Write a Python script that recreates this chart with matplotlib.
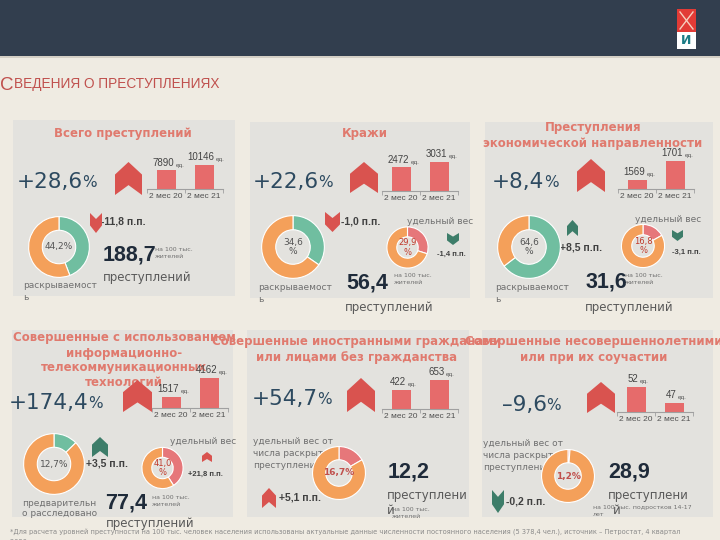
import matplotlib
matplotlib.use("Agg")
import matplotlib.pyplot as plt
from matplotlib.patches import Rectangle, Polygon

# ---------------- data ----------------
page_title_first = "С"
page_title_rest = "ВЕДЕНИЯ О ПРЕСТУПЛЕНИЯХ"
panel_titles = [
    ["Всего преступлений"],
    ["Кражи"],
    ["Преступления", "экономической направленности"],
    ["Совершенные с использованием", "информационно-", "телекоммуникационных", "технологий"],
    ["Совершенные иностранными гражданами", "или лицами без гражданства"],
    ["Совершенные несовершеннолетними", "или при их соучастии"],
]
period_labels = ["2 мес 20", "2 мес 21"]
unit_label = "ед."
crimes_2m20 = [7890, 2472, 1569, 1517, 422, 52]
crimes_2m21 = [10146, 3031, 1701, 4162, 653, 47]
change_pct = [28.6, 22.6, 8.4, 174.4, 54.7, -9.6]
solve_rate = [44.2, 34.6, 64.6, 12.7]
solve_rate_change = [-11.8, -1.0, 8.5, 3.5]
solve_rate_labels = [["раскрываемост", "ь"]] * 3 + [["предварительн", "о расследовано"]]
weight_label = "удельный вес"
weight_share = [29.9, 16.8, 41.0]          # panels 2-4
weight_change = [-1.4, -3.1, 21.8]
solved_share_label = ["удельный вес от", "числа раскрытых", "преступлений"]
solved_share = [16.7, 1.2]                 # panels 5-6
solved_share_change = [5.1, -0.2]
rate_per_100k = [188.7, 56.4, 31.6, 77.4, 12.2, 28.9]
rate_units = ["на 100 тыс.\nжителей"] * 5 + ["на 100 тыс. подростков 14-17\nлет"]
crimes_word = "преступлений"
footnote = ("*Для расчета уровней преступности на 100 тыс. человек населения использованы актуальные "
            "данные численности постоянного населения (5 378,4 чел.), источник – Петростат, 4 квартал")
footnote2 = "2020 года"

# ---------------- style ----------------
NARROW = ["Liberation Sans", "DejaVu Sans"]
SANS = ["DejaVu Sans"]
ARIAL = ["Liberation Sans", "DejaVu Sans"]
BG = "#efebe2"; PANEL = "#e3e2de"; HEADER = "#323e4e"
RED_T = "#e07a6e"; RED = "#d9534f"; BAR = "#e66b6b"; TEAL = "#70bea0"; TEAL_D = "#3d7d69"
ORANGE = "#f4a05a"; PINK = "#e6777a"; NAVY = "#2d4a60"; DARK = "#1f2b3a"; GREY = "#707070"

W, H = 720, 540
fig = plt.figure(figsize=(7.2, 5.4), dpi=100)
fig.patch.set_facecolor(BG)
base = fig.add_axes([0, 0, 1, 1])
base.set_xlim(0, W); base.set_ylim(H, 0); base.axis("off")


def fnum(v, signed=False, dash="-"):
    s = f"{abs(v):.1f}".replace(".", ",")
    if v < 0:
        return dash + s
    return ("+" + s) if signed else s


def rect(x0, y0, x1, y1, c, z=0):
    base.add_patch(Rectangle((x0, y0), x1 - x0, y1 - y0, facecolor=c, edgecolor="none", zorder=z))


def txt(x, y, s, size, color, ha="left", va="center", weight="normal", family=SANS, z=3, **kw):
    return base.text(x, y, s, fontsize=size, color=color, ha=ha, va=va, fontweight=weight,
                     family=family, zorder=z, **kw)


def lines(x, y, step, items, size, color, **kw):
    for k, s in enumerate(items):
        txt(x, y + k * step, s, size, color, **kw)


def chevron(x0, y0, w, h, up, color, z=5):
    if up:
        pts = [(x0, y0 + h), (x0, y0 + 0.38 * h), (x0 + w / 2, y0), (x0 + w, y0 + 0.38 * h),
               (x0 + w, y0 + h), (x0 + w / 2, y0 + 0.7 * h)]
    else:
        pts = [(x0, y0), (x0 + w / 2, y0 + 0.3 * h), (x0 + w, y0), (x0 + w, y0 + 0.62 * h),
               (x0 + w / 2, y0 + h), (x0, y0 + 0.62 * h)]
    base.add_patch(Polygon(pts, closed=True, facecolor=color, edgecolor="none", zorder=z))


def title(i, x, y, step=15.5):
    lines(x, y, step, panel_titles[i], 8.5, RED_T, ha="center", weight="bold")


def change(i, x, y):
    t = txt(x, y, fnum(change_pct[i], True, "–"), 15.5, NAVY)
    base.annotate("%", xy=(1, 0.1), xycoords=t, xytext=(-0.5, 0), textcoords="offset points",
                  fontsize=11, color=NAVY, ha="left", va="bottom", family=SANS)


def barchart(i, x, base_y, top_y, ymin):
    vals = [crimes_2m20[i], crimes_2m21[i]]
    ax = fig.add_axes([x / W, 1 - base_y / H, 76 / W, (base_y - top_y) / H])
    ax.bar([0, 1], vals, width=0.5, color=BAR, zorder=2)
    ax.set_xlim(-0.5, 1.5); ax.set_ylim(ymin, max(vals))
    ax.patch.set_visible(False)
    for s in ("top", "right", "left"):
        ax.spines[s].set_visible(False)
    ax.spines["bottom"].set_color("#a0a0a0"); ax.spines["bottom"].set_linewidth(0.8)
    ax.set_yticks([])
    ax.set_xticks([0, 1])
    ax.set_xticklabels(period_labels, fontsize=6, color="#505050", family=ARIAL)
    ax.tick_params(axis="x", which="major", length=0, pad=3)
    ax.set_xticks([-0.5, 0.5, 1.5], minor=True)
    ax.tick_params(axis="x", which="minor", length=3, width=0.6, color="#a0a0a0")
    for k, v in enumerate(vals):
        vt = ax.annotate(str(v), (k, v), xytext=(-2, 2), textcoords="offset points", ha="center",
                         va="bottom", fontsize=7, color="#444444", family=ARIAL, annotation_clip=False)
        ax.annotate(unit_label, xy=(1, 0), xycoords=vt, xytext=(1, 0), textcoords="offset points",
                    ha="left", va="bottom", fontsize=4.5, color="#555555", family=ARIAL)


def donut(cx, cy, r, share, color, width, label, lcolor="#555555", lsize=6.5, weight="normal"):
    ax = fig.add_axes([(cx - r) / W, 1 - (cy + r) / H, 2 * r / W, 2 * r / H])
    ax.pie([share, 100 - share], colors=[color, ORANGE], startangle=90, counterclock=False, radius=1,
           wedgeprops=dict(width=width, edgecolor="white", linewidth=0.8))
    ax.set_xlim(-1.02, 1.02); ax.set_ylim(-1.02, 1.02)
    ax.text(0, 0, label, ha="center", va="center", fontsize=lsize, color=lcolor, fontweight=weight,
            family=SANS, linespacing=1.1)


def pp(x, y, v, size=7.5):
    txt(x, y, fnum(v, True) + " п.п.", size, "#404040", weight="bold", family=NARROW)


def rate(i, x, y, ux, uy):
    t = txt(x, y, fnum(rate_per_100k[i]), 15.5, DARK, weight="bold", family=NARROW)
    txt(ux, uy, rate_units[i], 4.5, GREY, linespacing=1.3)
    return t


# ---------------- header ----------------
rect(0, 0, 720, 56, HEADER)
rect(0, 56, 720, 58, "#d4cfc5")
rect(677, 9, 696, 32, "#e23b36", z=2)
rect(677, 32, 696, 49, "white", z=2)
base.plot([680, 693], [12, 29], color="#f6d0c0", lw=1, zorder=3)
base.plot([693, 680], [12, 29], color="#f6d0c0", lw=1, zorder=3)
txt(686.5, 41, "И", 9, "#1b7c86", ha="center", weight="bold")
t0 = txt(0, 86, page_title_first, 13.5, "#c0504d", family=NARROW)
base.annotate(page_title_rest, xy=(1, 0.2), xycoords=t0, xytext=(0.3, 0), textcoords="offset points",
              fontsize=9.8, color="#c0504d", ha="left", va="bottom", family=NARROW)

# ---------------- panel 1 ----------------
rect(13, 120, 235, 296, PANEL)
title(0, 123, 134)
change(0, 17, 182)
chevron(115, 162, 27, 33, True, RED)
barchart(0, 147, 189, 165, 0)
donut(59, 247, 31, solve_rate[0], TEAL, 0.45, fnum(solve_rate[0]) + "%")
lines(23, 285, 12, solve_rate_labels[0], 6.5, GREY)
chevron(90, 213, 12, 20, False, RED)
pp(101, 221, solve_rate_change[0])
rate(0, 103, 255, 155, 253)
txt(103, 278, crimes_word, 8.5, "#595959")

# ---------------- panel 2 ----------------
rect(250, 122, 470, 298, PANEL)
title(1, 365, 134)
change(1, 253, 182)
chevron(350, 162, 28, 31, True, RED)
barchart(1, 382, 191, 162, 0)
donut(293, 247, 32, solve_rate[1], TEAL, 0.45, fnum(solve_rate[1]) + "\n%")
lines(258, 287, 12, solve_rate_labels[1], 6.5, GREY)
chevron(325, 212, 15, 20, False, RED)
pp(341, 222, solve_rate_change[1])
donut(407.5, 247.5, 21, weight_share[0], PINK, 0.48, fnum(weight_share[0]) + "\n%", "#c0392b", 6)
txt(407, 222, weight_label, 6.5, GREY)
chevron(447, 233, 12, 12, False, TEAL_D)
pp(437, 254, weight_change[0], 5.5)
rate(1, 346, 283, 394, 279)
txt(345, 307, crimes_word, 8.5, "#595959")

# ---------------- panel 3 ----------------
rect(485, 122, 713, 298, PANEL)
title(2, 593, 127, 16)
change(2, 492, 182)
chevron(577, 159, 28, 33, True, RED)
barchart(2, 618, 189, 161, 1505)
donut(529, 247, 32, solve_rate[2], TEAL, 0.45, fnum(solve_rate[2]) + "\n%")
lines(495, 287, 12, solve_rate_labels[2], 6.5, GREY)
chevron(567, 220, 11, 16, True, TEAL_D)
pp(560, 247, solve_rate_change[2])
donut(643, 246, 22, weight_share[1], PINK, 0.48, fnum(weight_share[1]) + "\n%", "#c0392b", 6)
txt(635, 220, weight_label, 6.5, GREY)
chevron(672, 230, 11, 11, False, TEAL_D)
pp(672, 252, weight_change[1], 5.5)
rate(2, 586, 282, 625, 279)
txt(585, 307, crimes_word, 8.5, "#595959")

# ---------------- panel 4 ----------------
rect(12, 330, 233, 517, PANEL)
title(3, 124, 338, 15)
change(3, 9, 403)
chevron(123, 380, 29, 32, True, RED)
barchart(3, 152, 408, 378, 0)
donut(54, 464, 31, solve_rate[3], TEAL, 0.45, fnum(solve_rate[3]) + "%")
lines(22, 503, 11, solve_rate_labels[3], 6.5, GREY)
chevron(92, 437, 16, 20, True, TEAL_D)
pp(86, 463, solve_rate_change[3])
donut(162.5, 468, 21, weight_share[2], PINK, 0.48, fnum(weight_share[2]) + "\n%", "#c0392b", 6)
txt(170, 442, weight_label, 6.5, GREY)
chevron(202, 452, 10, 10, True, RED)
pp(188, 474, weight_change[2], 5.5)
rate(3, 105, 503, 152, 501)
txt(106, 523, crimes_word, 8.5, "#595959")

# ---------------- panel 5 ----------------
rect(247, 330, 469, 517, PANEL)
change(4, 252, 399)
chevron(347, 378, 28, 34, True, RED)
barchart(4, 382, 409, 380, 0)
lines(253, 441, 12.5, solved_share_label, 6.5, GREY)
donut(339, 473, 27, solved_share[0], PINK, 0.5, fnum(solved_share[0]) + "%", "#c0504d", 6.5, "bold")
chevron(262, 488, 14, 20, True, RED)
pp(279, 498, solved_share_change[0])
rate(4, 388, 472, 392, 513)
lines(387, 495, 16, [crimes_word[:-1], crimes_word[-1]], 8.5, "#595959")

# ---------------- panel 6 ----------------
rect(482, 330, 713, 517, PANEL)
change(5, 502, 405)
chevron(587, 382, 28, 31, True, RED)
barchart(5, 617, 412, 387, 44)
lines(483, 443, 12.5, solved_share_label, 6.5, GREY)
donut(568, 476, 27, solved_share[1], PINK, 0.5, fnum(solved_share[1]) + "%", "#c0504d", 6.5, "bold")
chevron(492, 490, 12, 23, False, TEAL_D)
pp(506, 502, solved_share_change[1])
rate(5, 608, 472, 593, 511)
txt(608, 495, crimes_word[:-1], 8.5, "#595959")
txt(613, 510, crimes_word[-1], 8.5, "#595959")

# titles of row 2 drawn last (they overlap neighbours)
title(4, 357, 342, 15.5)
title(5, 594, 342, 16)

# ---------------- footnote ----------------
txt(10, 532, footnote, 4.8, "#8a8a8a")
txt(10, 541, footnote2, 4.8, "#8a8a8a")

fig.savefig("out.png", dpi=100, facecolor=BG)
